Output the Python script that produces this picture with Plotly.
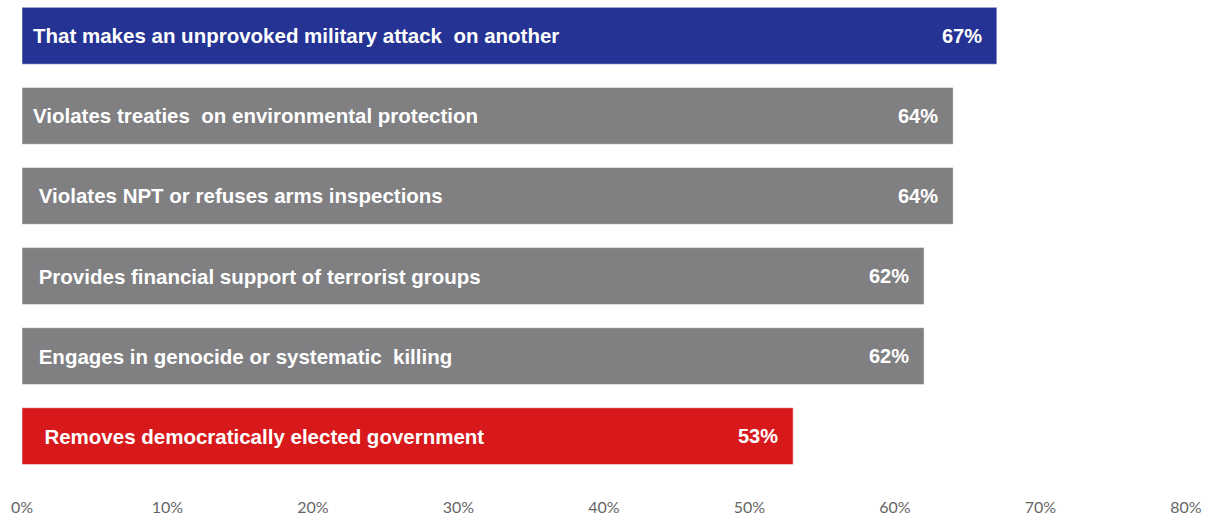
import plotly.graph_objects as go

categories = [
    "That makes an unprovoked military attack  on another",
    "Violates treaties  on environmental protection",
    " Violates NPT or refuses arms inspections",
    " Provides financial support of terrorist groups",
    " Engages in genocide or systematic  killing",
    "  Removes democratically elected government",
]
values = [67, 64, 64, 62, 62, 53]
value_labels = ["67%", "64%", "64%", "62%", "62%", "53%"]
bar_colors = ["#253494", "#808083", "#808083", "#808083", "#808083", "#D7191C"]
x_ticks = [0, 10, 20, 30, 40, 50, 60, 70, 80]
x_tick_labels = ["0%", "10%", "20%", "30%", "40%", "50%", "60%", "70%", "80%"]

positions = list(range(len(categories)))

fig = go.Figure()
fig.add_trace(go.Bar(
    x=values,
    y=positions,
    orientation="h",
    marker=dict(color=bar_colors, line=dict(color="rgba(255,255,255,0.5)", width=1)),
    width=0.71,
    hoverinfo="skip",
))

label_font = dict(family="Liberation Sans, Arial, sans-serif", size=20.5, color="white")
value_font = dict(family="Liberation Sans, Arial, sans-serif", size=20, color="white")
for i, (cat, v, vl) in enumerate(zip(categories, values, value_labels)):
    fig.add_annotation(x=0, y=i, text="<b>" + cat.replace(" ", "&nbsp;") + "</b>",
                       xanchor="left", yanchor="middle", xshift=9, showarrow=False,
                       font=label_font)
    fig.add_annotation(x=v, y=i, text="<b>" + vl + "</b>",
                       xanchor="right", yanchor="middle", xshift=-13, showarrow=False,
                       font=value_font)

fig.update_layout(
    width=1214, height=516,
    margin=dict(l=22, r=28, t=0, b=36),
    paper_bgcolor="white", plot_bgcolor="white",
    showlegend=False,
    bargap=0.29,
    xaxis=dict(range=[0, 80], tickvals=x_ticks, ticktext=x_tick_labels,
               showgrid=False, zeroline=False, showline=False,
               ticks="outside", ticklen=16, tickcolor="rgba(0,0,0,0)",
               tickfont=dict(family="Lato, Open Sans, sans-serif", size=16, color="#666666"),
               fixedrange=True),
    yaxis=dict(range=[5.51, -0.447], showticklabels=False, showgrid=False,
               zeroline=False, showline=False, fixedrange=True),
)

fig.write_html("out.html")
